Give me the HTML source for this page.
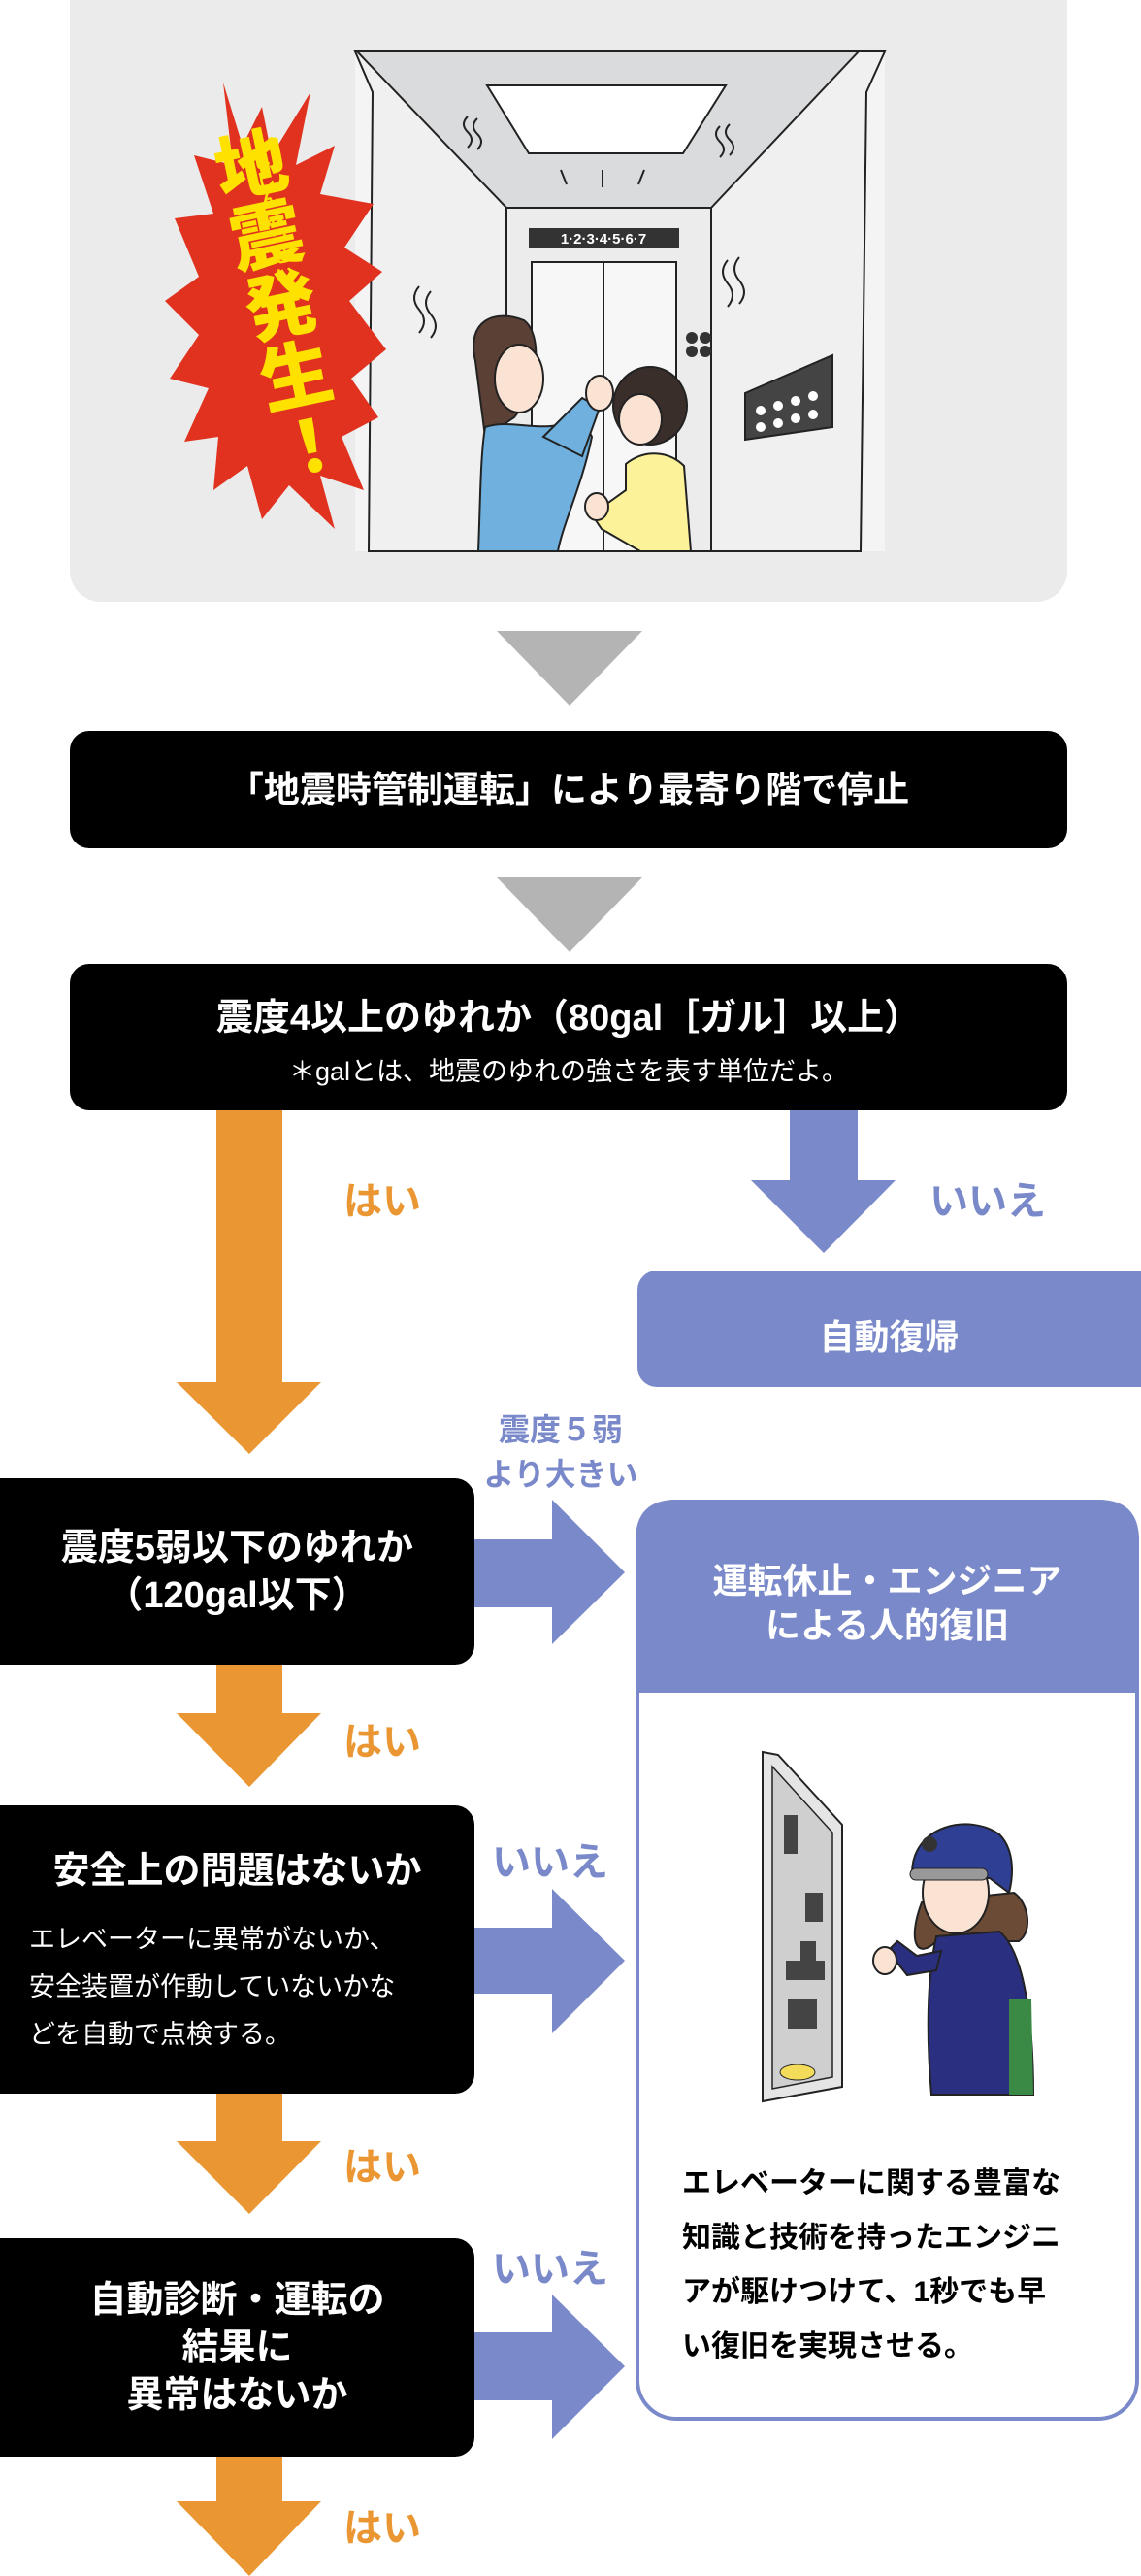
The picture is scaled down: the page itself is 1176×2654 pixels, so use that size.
<!DOCTYPE html>
<html><head><meta charset="utf-8"><style>
*{margin:0;padding:0;box-sizing:border-box}
body{width:1176px;height:2654px;position:relative;background:#fff;overflow:hidden;font-family:"Liberation Sans","Noto Sans CJK JP",sans-serif;font-weight:bold}
.a{position:absolute}
.blk{position:absolute;background:#000;color:#fff;border-radius:20px;text-align:center}
.t{position:absolute;white-space:nowrap;text-align:center}
.or{color:#ea9632;font-size:40px}
.bl{color:#7a89c9;font-size:40px}
</style></head><body>
<svg class="a" style="left:0;top:0" width="1176" height="2654" viewBox="0 0 1176 2654">
<rect x="72" y="-40" width="1028" height="660" rx="32" fill="#ebebeb"/>
<rect x="366" y="53" width="546" height="515" fill="#f4f4f4"/>
<polygon points="366,53 912,53 893,95 887,568 733,568 733,214 522,214 522,568 380,568 384,95" fill="#f0f0f1" stroke="#222" stroke-width="2"/>
<polygon points="368,53 885,53 733,214 522,214" fill="#d9dbdc" stroke="#222" stroke-width="2"/>
<polygon points="502,88 748,88 704,158 545,158" fill="#fff" stroke="#222" stroke-width="2"/>
<rect x="522" y="214" width="211" height="354" fill="#ececec" stroke="#222" stroke-width="2"/>
<rect x="548" y="270" width="149" height="298" fill="#f7f7f7" stroke="#222" stroke-width="2"/>
<line x1="622" y1="270" x2="622" y2="568" stroke="#222" stroke-width="2"/>
<rect x="545" y="235" width="155" height="20" fill="#333"/>
<text x="622" y="251" fill="#fff" font-size="15" text-anchor="middle" font-family="Liberation Sans">1·2·3·4·5·6·7</text>
<circle cx="713" cy="348" r="6" fill="#333"/><circle cx="727" cy="348" r="6" fill="#333"/><circle cx="713" cy="362" r="6" fill="#333"/><circle cx="727" cy="362" r="6" fill="#333"/>
<polygon points="768,405 858,366 858,440 768,453" fill="#444" stroke="#222" stroke-width="2"/>
<g fill="#fff"><circle cx="784" cy="423" r="5"/><circle cx="802" cy="418" r="5"/><circle cx="820" cy="413" r="5"/><circle cx="838" cy="408" r="5"/><circle cx="784" cy="440" r="5"/><circle cx="802" cy="436" r="5"/><circle cx="820" cy="431" r="5"/><circle cx="838" cy="427" r="5"/></g>
<path d="M490,372 C480,330 510,318 540,330 C560,345 555,400 530,430 L500,450 Z" fill="#5b4035" stroke="#222" stroke-width="2"/>
<ellipse cx="535" cy="390" rx="25" ry="35" fill="#fbe3d4" stroke="#222" stroke-width="2"/>
<path d="M500,440 C530,430 560,450 600,430 L610,450 C600,500 580,540 575,568 L493,568 C495,520 495,470 500,440 Z" fill="#6fb0de" stroke="#222" stroke-width="2"/>
<path d="M560,450 L600,410 L618,420 L600,470 Z" fill="#6fb0de" stroke="#222" stroke-width="2"/>
<ellipse cx="618" cy="405" rx="14" ry="18" fill="#fbe3d4" stroke="#222" stroke-width="2"/>
<ellipse cx="670" cy="418" rx="38" ry="40" fill="#3a2e2a" stroke="#222" stroke-width="2"/>
<ellipse cx="660" cy="432" rx="22" ry="26" fill="#fbe3d4" stroke="#222" stroke-width="2"/>
<path d="M645,478 C665,462 690,465 705,480 L712,568 L660,568 L620,545 L610,530 L645,505 Z" fill="#fbf29a" stroke="#222" stroke-width="2"/>
<ellipse cx="615" cy="522" rx="12" ry="14" fill="#fbe3d4" stroke="#222" stroke-width="2"/>
<g fill="none" stroke="#222" stroke-width="2">
<path d="M482,120 q-8,8 0,16 q8,8 0,16"/><path d="M492,122 q-8,8 0,16 q8,8 0,16"/>
<path d="M742,130 q-8,8 0,16 q8,8 0,16"/><path d="M752,128 q-8,8 0,16 q8,8 0,16"/>
<path d="M432,295 q-10,12 0,24 q10,12 0,24"/><path d="M444,300 q-10,12 0,24 q10,12 0,24"/>
<path d="M750,268 q-10,12 0,24 q10,12 0,24"/><path d="M762,265 q-10,12 0,24 q10,12 0,24"/>
<line x1="584" y1="190" x2="578" y2="175"/><line x1="621" y1="193" x2="621" y2="175"/><line x1="658" y1="190" x2="664" y2="175"/>
</g>
<polygon points="230,85 250,150 270,110 280,160 320,95 305,170 345,150 330,200 385,210 355,255 394,280 360,310 398,360 362,390 390,430 352,450 375,505 330,490 345,545 298,500 270,535 255,480 220,505 225,450 190,455 215,400 175,390 205,345 170,310 205,285 180,225 220,220 200,160 240,170" fill="#e0321f"/>
<polygon points="512,650 662,650 587,727" fill="#b4b4b4"/>
<polygon points="512,904 662,904 587,981" fill="#b4b4b4"/>
<g fill="#ea9632">
<polygon points="223,1144 291,1144 291,1424 331,1424 257,1498 182,1424 223,1424"/>
<polygon points="223,1715 291,1715 291,1765 331,1765 257,1841 182,1765 223,1765"/>
<polygon points="223,2157 291,2157 291,2206 331,2206 257,2281 182,2206 223,2206"/>
<polygon points="223,2531 291,2531 291,2577 331,2577 257,2654 182,2577 223,2577"/>
</g>
<g fill="#7a89c9">
<polygon points="814,1144 884,1144 884,1216 923,1216 849,1291 774,1216 814,1216"/>
<polygon points="489,1586 569,1586 569,1545 644,1620 569,1694 569,1656 489,1656"/>
<polygon points="489,1986 569,1986 569,1946 644,2020 569,2095 569,2054 489,2054"/>
<polygon points="489,2403 569,2403 569,2364 644,2438 569,2513 569,2473 489,2473"/>
</g>
<rect x="657" y="1309" width="560" height="120" rx="20" fill="#7a89c9"/>
<rect x="657" y="1547" width="515" height="945" rx="40" fill="#fff" stroke="#7a89c9" stroke-width="4"/>
<path d="M655,1744 L655,1587 Q655,1545 697,1545 L1132,1545 Q1174,1545 1174,1587 L1174,1744 Z" fill="#7a89c9"/>
<polygon points="786,1805 802,1808 868,1880 868,2150 786,2165" fill="#e5e5e5" stroke="#222" stroke-width="2"/>
<polygon points="796,1820 858,1888 858,2140 796,2152" fill="#cfcfcf" stroke="#222" stroke-width="1.5"/>
<g fill="#444"><rect x="808" y="1870" width="14" height="40"/><rect x="830" y="1950" width="18" height="30"/><rect x="825" y="2000" width="16" height="25"/><rect x="810" y="2020" width="40" height="20"/><rect x="812" y="2060" width="30" height="30"/></g>
<ellipse cx="822" cy="2135" rx="18" ry="8" fill="#f2dc5a" stroke="#222"/>
<path d="M950,1960 C935,2000 945,2020 965,2000 L1050,2000 C1065,1990 1060,1960 1045,1950 Z" fill="#6b4a36" stroke="#222" stroke-width="2"/>
<ellipse cx="985" cy="1950" rx="34" ry="42" fill="#fbe3d4" stroke="#222" stroke-width="2"/>
<path d="M940,1930 C940,1880 1000,1868 1030,1890 C1045,1905 1045,1930 1040,1950 L1020,1935 L945,1935 Z" fill="#2f3f94" stroke="#222" stroke-width="2"/>
<rect x="938" y="1925" width="80" height="12" rx="6" fill="#999" stroke="#222"/>
<circle cx="958" cy="1900" r="8" fill="#333"/>
<path d="M965,1995 L1030,1990 C1055,2010 1065,2080 1065,2158 L960,2158 C955,2100 955,2040 965,1995 Z" fill="#2b2f7f" stroke="#222" stroke-width="2"/>
<path d="M1040,2060 L1063,2060 L1065,2158 L1040,2158 Z" fill="#3a8a46"/>
<path d="M965,2030 L935,2035 L915,2010 L925,2000 L945,2015 L970,2010 Z" fill="#2b2f7f" stroke="#222" stroke-width="2"/>
<ellipse cx="912" cy="2020" rx="12" ry="14" fill="#fbe3d4" stroke="#222" stroke-width="2"/>
</svg>

<div class="a" style="left:166px;top:138px;width:120px;color:#ffe100;font-size:74px;line-height:82px;writing-mode:vertical-rl;transform:rotate(-12deg);transform-origin:50% 0;font-weight:900">地震発生！</div>
<div class="a" style="left:245px;top:156px;color:#ffe100;font-size:20px;line-height:40px;writing-mode:vertical-rl;transform:rotate(-12deg);transform-origin:50% 0">じしんはっせい</div>

<div class="blk" style="left:72px;top:753px;width:1028px;height:121px;font-size:37px;line-height:121px">「地震時管制運転」により最寄り階で停止</div>

<div class="blk" style="left:72px;top:993px;width:1028px;height:151px">
<div class="t" style="left:0;width:100%;top:34px;font-size:38px;line-height:44px">震度4以上のゆれか（80gal［ガル］以上）</div>
<div class="t" style="left:0;width:100%;top:96px;font-size:27px;line-height:30px;font-weight:normal">＊galとは、地震のゆれの強さを表す単位だよ。</div>
</div>

<div class="t or" style="left:354px;top:1205px">はい</div>
<div class="t bl" style="left:958px;top:1205px">いいえ</div>
<div class="t" style="left:657px;top:1349px;width:519px;font-size:36px;color:#fff">自動復帰</div>
<div class="t" style="left:478px;top:1450px;width:200px;font-size:32px;line-height:46px;color:#7a89c9">震度５弱<br>より大きい</div>

<div class="blk" style="left:-20px;top:1523px;width:509px;height:192px;font-size:38px;line-height:49px;padding-top:48px;padding-left:20px">震度5弱以下のゆれか<br>（120gal以下）</div>

<div class="t" style="left:657px;top:1606px;width:515px;font-size:36px;line-height:46px;color:#fff">運転休止・エンジニア<br>による人的復旧</div>

<div class="t or" style="left:354px;top:1762px">はい</div>

<div class="blk" style="left:-20px;top:1860px;width:509px;height:297px;text-align:left;padding-left:20px">
<div class="t" style="left:20px;width:489px;top:44px;font-size:38px;line-height:48px">安全上の問題はないか</div>
<div class="a" style="left:50px;top:114px;font-size:27px;line-height:49px;font-weight:normal;white-space:nowrap">エレベーターに異常がないか、<br>安全装置が作動していないかな<br>どを自動で点検する。</div>
</div>
<div class="t bl" style="left:507px;top:1886px">いいえ</div>

<div class="t or" style="left:354px;top:2200px">はい</div>

<div class="blk" style="left:-20px;top:2306px;width:509px;height:225px;font-size:38px;line-height:49px;padding-top:40px;padding-left:20px">自動診断・運転の<br>結果に<br>異常はないか</div>
<div class="t bl" style="left:507px;top:2305px">いいえ</div>

<div class="a" style="left:703px;top:2222px;font-size:30px;line-height:56px;color:#000;white-space:nowrap">エレベーターに関する豊富な<br>知識と技術を持ったエンジニ<br>アが駆けつけて、1秒でも早<br>い復旧を実現させる。</div>

<div class="t or" style="left:354px;top:2572px">はい</div>
</body></html>
